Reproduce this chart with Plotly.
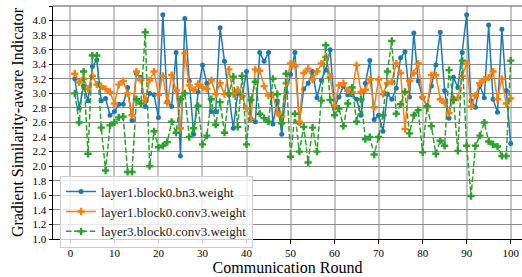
import plotly.graph_objects as go

rounds = list(range(1, 101))

bn3_l1 = [3.20, 2.80, 3.10, 2.90, 3.37, 3.46, 2.90, 2.93, 2.70, 2.75,
          2.85, 2.85, 3.08, 2.63, 3.27, 3.22, 2.82, 3.00, 2.98, 2.67,
          4.08, 2.89, 2.82, 3.56, 2.14, 4.03, 3.17, 2.44, 3.02, 3.39,
          3.14, 2.75, 2.75, 3.90, 3.44, 2.98, 2.52, 3.00, 2.95, 3.30,
          2.65, 2.61, 3.56, 3.44, 3.56, 2.58, 2.90, 2.44, 3.02, 3.26,
          3.56, 2.59, 3.06, 3.14, 3.30, 2.94, 3.18, 3.32, 3.60, 2.81,
          2.95, 3.10, 2.98, 2.98, 2.92, 2.70, 3.14, 3.45, 2.64, 2.70,
          2.48, 2.99, 2.92, 3.07, 3.49, 3.57, 2.95, 3.83, 3.17, 2.94,
          2.83, 3.10, 3.39, 3.84, 3.04, 2.66, 3.22, 3.08, 3.56, 4.08,
          2.90, 2.81, 3.11, 2.94, 3.94, 2.92, 2.74, 3.88, 3.04, 2.31]

conv3_l1 = [3.27, 3.15, 3.20, 3.06, 3.24, 3.12, 3.10, 3.06, 3.02, 2.86,
            3.12, 3.17, 3.00, 2.70, 3.30, 3.18, 2.90, 3.18, 3.30, 2.98,
            3.24, 2.87, 3.25, 3.04, 2.52, 3.55, 3.11, 3.05, 3.13, 3.08,
            3.06, 3.18, 2.99, 3.14, 2.99, 3.33, 2.99, 3.05, 2.96, 2.79,
            2.65, 3.33, 3.31, 3.10, 2.97, 2.98, 2.73, 2.68, 3.14, 3.41,
            3.38, 2.61, 3.28, 3.34, 3.19, 3.30, 3.41, 3.50, 3.23, 2.83,
            3.11, 3.14, 3.04, 3.02, 3.39, 3.02, 3.05, 3.19, 2.81, 3.19,
            2.99, 3.14, 3.16, 3.41, 3.28, 2.51, 3.17, 3.28, 3.41, 2.95,
            2.81, 3.25, 3.25, 2.92, 2.87, 2.73, 2.92, 2.94, 3.24, 3.41,
            2.82, 2.97, 3.14, 3.19, 3.22, 3.30, 2.92, 3.20, 2.86, 2.93]

conv3_l3 = [3.00, 2.60, 3.30, 2.17, 3.52, 3.52, 2.53, 1.94, 2.56, 2.60,
            2.67, 2.68, 1.92, 1.92, 2.92, 2.86, 3.84, 2.00, 2.48, 2.26,
            2.28, 2.33, 2.61, 2.46, 2.92, 3.00, 2.40, 2.52, 2.83, 2.30,
            2.42, 2.92, 2.57, 2.88, 2.46, 3.00, 3.23, 2.54, 3.24, 2.30,
            2.91, 3.16, 2.72, 2.66, 2.61, 3.20, 2.99, 2.59, 3.27, 2.13,
            2.72, 2.20, 2.54, 2.05, 2.53, 2.20, 2.90, 3.66, 2.91, 2.70,
            2.79, 2.55, 2.86, 3.08, 2.61, 2.92, 2.37, 2.40, 2.16, 2.40,
            2.70, 3.30, 3.72, 2.72, 2.85, 3.02, 2.45, 2.70, 2.77, 2.19,
            2.82, 2.55, 2.17, 2.35, 2.28, 3.32, 2.91, 2.21, 3.45, 2.28,
            1.59, 2.28, 2.42, 2.60, 2.34, 2.30, 2.27, 2.14, 2.14, 3.45]

names = ["layer1.block0.bn3.weight", "layer1.block0.conv3.weight", "layer3.block0.conv3.weight"]
x_ticks = list(range(0, 101, 10))
y_ticks = [round(1.0 + 0.2 * k, 1) for k in range(17)]

FONT = "Liberation Serif, Times New Roman, serif"

fig = go.Figure()
fig.add_trace(go.Scatter(x=rounds, y=bn3_l1, name=names[0], mode="lines+markers",
                         line=dict(color="#1f77b4", width=1.5),
                         marker=dict(symbol="circle", size=5, color="#1f77b4")))
fig.add_trace(go.Scatter(x=rounds, y=conv3_l1, name=names[1], mode="lines+markers",
                         line=dict(color="#ff7f0e", width=1.5),
                         marker=dict(symbol="cross", size=6, color="#ff7f0e")))
fig.add_trace(go.Scatter(x=rounds, y=conv3_l3, name=names[2], mode="lines+markers",
                         line=dict(color="#2ca02c", width=1.5, dash="5.5px,2.4px"),
                         marker=dict(symbol="cross", size=6, color="#2ca02c")))

fig.update_layout(
    width=522, height=277,
    margin=dict(l=53, r=0, t=6, b=38),
    paper_bgcolor="white", plot_bgcolor="white",
    font=dict(family=FONT, size=11, color="black"),
    showlegend=True,
    legend=dict(x=0.015, y=0.272, xanchor="left", yanchor="top",
                bgcolor="rgba(255,255,255,0.8)", bordercolor="#cccccc", borderwidth=1,
                font=dict(family=FONT, size=13, color="#222"), tracegroupgap=0),
    xaxis=dict(range=[-3.95, 102.57], tickvals=x_ticks, ticks="outside", ticklen=3.5,
               tickwidth=0.8, tickcolor="black", showline=True, linecolor="black", linewidth=1,
               showgrid=True, gridcolor="#c4c4c4", gridwidth=1.6, zeroline=False,
               automargin=False,
               title=dict(text="Communication Round", font=dict(family=FONT, size=16), standoff=2),
               tickfont=dict(family=FONT, size=11)),
    yaxis=dict(range=[1.0, 4.2], tickvals=y_ticks, tickformat=".1f", ticks="outside",
               ticklen=3.5, tickwidth=0.8, tickcolor="black", showline=True, linecolor="black",
               linewidth=1, showgrid=True, gridcolor="#8c8c8c", gridwidth=0.8, zeroline=False,
               automargin=False,
               title=dict(text="Gradient Similarity-aware Indicator", font=dict(family=FONT, size=16), standoff=4),
               tickfont=dict(family=FONT, size=11)),
)
fig.add_shape(type="line", xref="paper", yref="paper", x0=0, x1=1, y0=1, y1=1,
              line=dict(color="#555555", width=1.2))

fig.write_html("out.html", config={"displayModeBar": False},
               post_script="document.body.style.margin='0';document.body.style.padding='0';"
                           "document.body.style.overflow='hidden';")
